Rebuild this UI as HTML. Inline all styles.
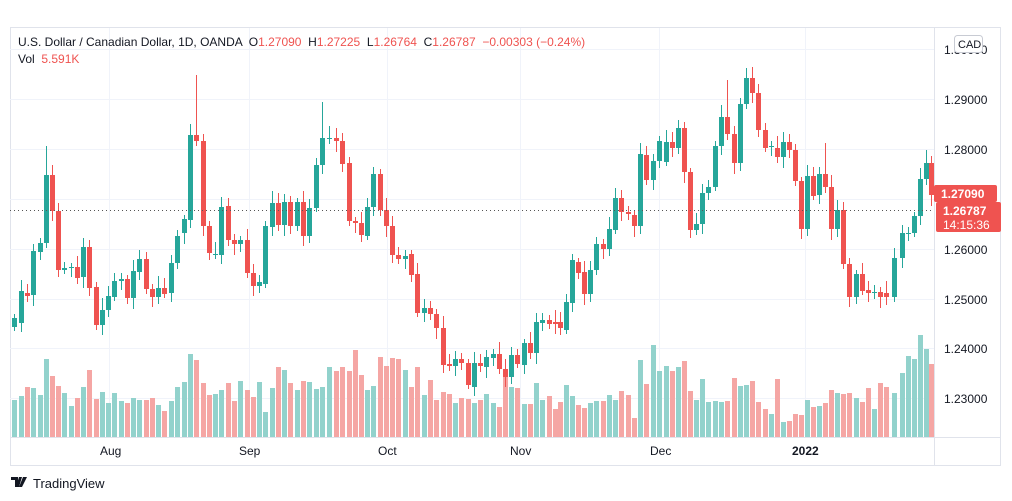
<!DOCTYPE html>
<html><head><meta charset="utf-8"><style>
body{margin:0;background:#fff;width:1012px;height:501px;overflow:hidden;font-family:"Liberation Sans",sans-serif}
text{white-space:pre}
</style></head><body>
<svg id="s" width="1012" height="501" xmlns="http://www.w3.org/2000/svg" style="position:absolute;left:0;top:0">
<rect x="10.5" y="27.5" width="990" height="438" fill="#fff" stroke="#e0e3eb"/>
<g stroke="#f0f3fa" stroke-width="1">
<line x1="10" x2="934" y1="49.5" y2="49.5"/><line x1="10" x2="934" y1="99.5" y2="99.5"/>
<line x1="10" x2="934" y1="149.5" y2="149.5"/><line x1="10" x2="934" y1="199.5" y2="199.5"/>
<line x1="10" x2="934" y1="249.5" y2="249.5"/><line x1="10" x2="934" y1="299.5" y2="299.5"/>
<line x1="10" x2="934" y1="348.5" y2="348.5"/><line x1="10" x2="934" y1="398.5" y2="398.5"/>
<line x1="109.5" x2="109.5" y1="28" y2="437"/><line x1="249.5" x2="249.5" y1="28" y2="437"/>
<line x1="387.5" x2="387.5" y1="28" y2="437"/><line x1="520.5" x2="520.5" y1="28" y2="437"/>
<line x1="659.5" x2="659.5" y1="28" y2="437"/><line x1="805.5" x2="805.5" y1="28" y2="437"/>
</g>
<g id="vol"></g>
<g id="cand"></g>
<line x1="10" x2="934" y1="210.5" y2="210.5" stroke="#555" stroke-dasharray="1,3"/>
<line x1="934.5" x2="934.5" y1="28" y2="465" stroke="#e0e3eb"/>
<line x1="10" x2="1000" y1="437.5" y2="437.5" stroke="#e0e3eb"/>
<g font-size="12" fill="#131722" font-family="Liberation Sans,sans-serif">
<text x="944" y="104">1.29000</text><text x="944" y="154">1.28000</text>
<text x="944" y="254">1.26000</text><text x="944" y="304">1.25000</text>
<text x="944" y="353">1.24000</text><text x="944" y="403">1.23000</text>
<text x="944" y="54">1.30000</text>
<text x="100" y="455">Aug</text><text x="239" y="455">Sep</text><text x="378" y="455">Oct</text>
<text x="510" y="455">Nov</text><text x="650" y="455">Dec</text><text x="792" y="455" font-weight="bold">2022</text>
</g>
<rect x="954.5" y="35.5" width="28" height="17" rx="3" fill="#fff" stroke="#c8cbd3"/>
<text x="958" y="48" font-size="11" fill="#131722">CAD</text>
<rect x="934" y="185" width="63" height="17" rx="2" fill="#ef5350"/>
<text x="941" y="198" font-size="12" font-weight="bold" fill="#fff">1.27090</text>
<rect x="936" y="202" width="65" height="30" rx="2" fill="#ef5350"/>
<text x="943" y="215" font-size="12" font-weight="bold" fill="#fff">1.26787</text>
<text x="943" y="229" font-size="12" fill="#fff">14:15:36</text>
<g font-size="12" font-family="Liberation Sans,sans-serif">
<text x="18" y="46" fill="#131722">U.S. Dollar / Canadian Dollar, 1D, OANDA  O<tspan fill="#ef5350">1.27090</tspan>  H<tspan fill="#ef5350">1.27225</tspan>  L<tspan fill="#ef5350">1.26764</tspan>  C<tspan fill="#ef5350">1.26787</tspan>  <tspan fill="#ef5350">−0.00303 (−0.24%)</tspan></text>
<text x="18" y="63" fill="#131722">Vol  <tspan fill="#ef5350">5.591K</tspan></text>
</g>
<g transform="translate(11,477)"><path d="M0 0h7v10h-3v-7h-4z M8 0h3l-3 10h-3z M12 0h4l-5 10h-3z" fill="#131722"/></g>
<text x="33" y="488" font-size="13" fill="#131722">TradingView</text>
</svg>
<script>
(function(){
var C=[[14,327,318],[21,323,291],[27,293,296],[33,295,251],[40,252,243],[46,243,175,146],[52,175,211],[58,211,270],[64,270,268],[71,268,267],[77,267,278],[83,277,247],[89,247,288],[96,287,325],[102,325,310],[108,310,296],[114,297,281],[121,281,279],[127,279,298],[133,298,271],[139,272,259],[146,259,289],[152,289,297],[158,297,288],[164,288,294],[171,293,263],[177,263,236],[184,233,219],[190,220,135],[196,135,141,75],[203,141,226],[209,226,253],[215,255,254],[221,255,207],[228,206,240],[234,240,244],[240,244,240],[247,240,273],[253,273,286],[259,286,282],[265,284,226],[272,227,203],[278,203,225],[284,225,202],[290,202,226],[297,226,202],[303,202,236],[309,236,208],[316,208,165],[322,165,138,102],[329,138,138],[336,138,141],[342,141,164],[349,163,221],[355,221,223],[361,223,235],[367,236,207],[373,207,174],[380,174,210],[386,210,226],[392,226,255],[398,255,259],[405,259,256],[411,254,275],[417,274,313],[424,313,308],[430,308,314],[436,314,328],[443,328,365],[449,364,366],[455,366,359],[461,359,363],[468,363,385],[474,387,363],[480,363,366],[486,367,357],[493,358,354],[499,354,369],[505,369,377],[511,377,355],[517,355,364],[524,365,343],[530,343,353],[536,353,322],[542,323,320],[549,320,324],[555,322,324],[560,322,328],[566,330,302],[572,303,260],[578,262,273],[584,272,294],[590,294,270],[596,270,244],[603,244,249],[609,249,229],[615,230,198],[621,198,212],[628,212,214],[634,215,226],[640,226,154],[646,155,180],[653,180,161],[659,161,141],[666,162,142],[672,142,148],[678,148,128],[684,128,172],[690,172,230],[696,230,224],[702,224,193],[708,193,187],[715,187,146],[721,146,117],[727,117,134,80],[734,134,163],[740,163,104],[746,104,78,68],[752,78,93],[758,93,130],[765,130,148],[771,147,146],[777,148,157],[783,157,142],[789,142,150],[795,150,181],[801,181,229],[807,229,176],[813,176,196],[819,195,174],[825,174,187,143],[831,187,229],[837,229,210],[843,210,264],[849,264,297],[856,297,274],[862,274,291],[868,290,293],[874,293,292],[880,292,297],[886,293,297],[894,297,258],[902,258,233],[908,234,233],[914,233,216],[920,216,179],[926,179,163,150],[931,163,195]];
var V=[400,396,387,388,395,359,376,386,393,406,398,387,370,399,392,403,393,401,403,398,400,400,398,405,411,401,387,382,354,360,383,395,394,390,383,401,381,390,397,382,412,388,367,370,383,390,381,382,389,387,367,371,367,371,350,375,390,386,357,366,358,359,370,387,367,395,380,400,392,394,403,398,399,403,400,394,403,407,377,387,388,404,404,383,400,396,409,402,385,396,405,408,403,401,401,395,400,391,395,418,360,384,345,371,366,371,367,361,391,400,379,402,401,402,401,378,386,385,381,402,409,414,379,422,421,414,415,400,407,406,403,390,393,394,393,398,402,388,409,383,387,393,373,356,359,335,349,364,384];
var g=document.getElementById('cand'),v=document.getElementById('vol'),s='',t='';
for(var i=0;i<C.length;i++){var c=C[i],x=c[0],o=c[1],cl=c[2],up=cl<=o;
var bt=Math.min(o,cl),bb=Math.max(o,cl),hh=c[3]||(bt-4-(i*7%9)),ll=bb+4+(i*5%8);
var col=up?'#26a69a':'#ef5350';
s+='<line x1="'+(x+.5)+'" x2="'+(x+.5)+'" y1="'+hh+'" y2="'+ll+'" stroke="'+col+'"/>';
s+='<rect x="'+(x-2)+'" y="'+bt+'" width="5" height="'+Math.max(1,bb-bt)+'" fill="'+col+'"/>';
var vt=V[i]||395;
t+='<rect x="'+(x-2)+'" y="'+vt+'" width="5" height="'+(437-vt)+'" fill="'+(up?'#92d2cc':'#f5a6a4')+'"/>';}
g.innerHTML=s;v.innerHTML=t;
})();
</script>
</body></html>
